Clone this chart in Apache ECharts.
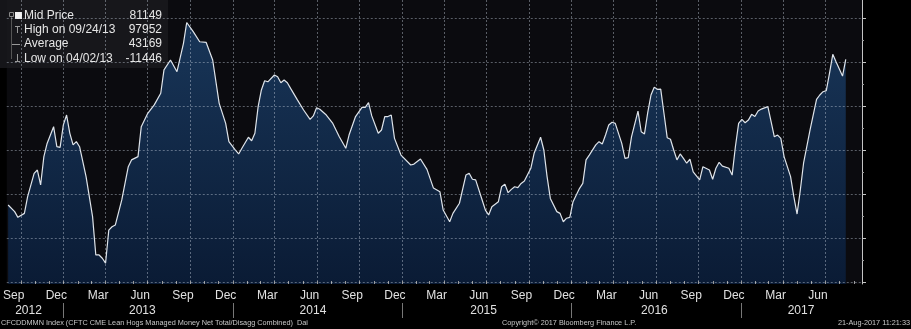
<!DOCTYPE html>
<html><head><meta charset="utf-8">
<script src="https://cdn.jsdelivr.net/npm/echarts@6/dist/echarts.min.js"></script>
<style>html,body{margin:0;padding:0;background:#000;}#c{width:911px;height:329px;}</style>
</head><body><div id="c"></div>
<script>
// ---- data (weekly CFTC report dates, counted in weeks from the first report) ----
const firstReportDate = '2012-09-04';
const weekOffsets = [0,2,3,5,6,8,9,10,11,12,14,15,16,17,18,19,20,21,22,24,26,27,28,29,30,31,32,33,35,37,38,40,41,43,45,47,48,50,52,54,55,57,59,61,63,65,67,68,70,71,72,74,75,76,77,78,79,80,82,83,84,85,86,87,89,91,93,94,95,96,98,100,102,104,105,107,109,110,111,112,114,115,116,117,118,119,121,124,125,127,129,131,133,134,136,137,139,141,142,143,144,146,147,148,149,151,152,153,154,155,156,157,158,159,161,162,164,165,166,167,169,170,171,172,173,174,176,177,178,179,181,182,183,184,185,186,187,189,190,191,192,194,195,196,197,198,199,200,201,202,203,204,205,206,207,208,209,210,211,213,214,216,217,218,219,220,222,223,224,225,226,227,228,229,230,231,232,234,235,236,237,238,239,241,242,243,244,245,247,249,250,251,252,253,254,255,257,258];
const netPositions = [15000,12000,9400,11200,18800,29400,30900,24100,37000,43000,50600,41500,41200,51400,55900,47600,42300,43800,41500,27900,9700,-7700,-7700,-9200,-11446,3600,5100,5900,17300,32400,35500,37000,50600,56700,60500,65800,76400,80900,75600,88500,97952,93800,89200,88900,80900,61200,52100,43800,40000,38200,40800,45800,44200,47600,59700,67300,71500,71000,74100,73300,70600,71800,70600,68000,63000,58200,53900,55500,59200,58500,55900,52100,46000,40800,46800,55200,59400,59400,61500,55500,47600,49100,55200,55200,55900,45300,37700,33200,33600,35900,31200,22700,21000,12700,7400,11200,15800,28600,29400,26700,26400,17300,12700,10500,14200,16500,23300,24500,20600,22100,23300,22900,24800,25900,31700,38500,45800,40000,27900,18000,12000,11200,7400,9000,9400,16500,22600,24800,35500,37700,42300,43800,42700,46800,51400,52600,52100,43000,36200,36500,46000,57700,48300,47300,57000,65000,68500,67600,67700,56700,45600,44900,40000,35500,38200,36200,34000,35800,30100,26400,32400,30900,26700,31700,34400,32700,31700,28600,41500,52100,53900,52400,53600,56200,55200,57700,58600,59700,52900,46000,46800,45300,37000,27900,18800,10900,21800,34000,49100,63000,65000,66500,67000,74900,83500,80100,73600,81149];
const axisStart = '2012-09-01';
const axisEnd = '2017-09-19';
const yearNames = ['2012','2013','2014','2015','2016','2017'];
const yearBounds = ['2012-09-01','2013-01-01','2014-01-01','2015-01-01','2016-01-01','2017-01-01','2017-09-19'];
const monthNames = ['Jan','Feb','Mar','Apr','May','Jun','Jul','Aug','Sep','Oct','Nov','Dec'];
const yTickValues = [-20000, 0, 20000, 40000, 60000, 80000, 100000];
const yTickLabels = ['-20000', '0', '20000', '40000', '60000', '80000', '0.1M'];
const legendLabels = ['Mid Price','High on 09/24/13','Average','Low on 04/02/13'];
const legendValues = ['81149','97952','43169','-11446'];
const footerLeft = 'CFCDDMMN Index (CFTC CME Lean Hogs Managed Money Net Total/Disagg Combined)  Dai';
const footerMid = 'Copyright\u00a9 2017 Bloomberg Finance L.P.';
const footerRight = '21-Aug-2017 11:21:33';

// ---- build ----
const DAY = 86400000;
const utc = s => Date.parse(s + 'T00:00:00Z');
const t0 = utc(firstReportDate);
const seriesData = weekOffsets.map((w, i) => [t0 + w * 7 * DAY, netPositions[i]]);
const lastValue = netPositions[netPositions.length - 1];
const xMin = utc(axisStart), xMax = utc(axisEnd);
const yMinExtent = -20900, yMaxExtent = 108180;
const FONT = '"Liberation Sans", Arial, sans-serif';

const chart = echarts.init(document.getElementById('c'));

const legendRows = [15.5, 30, 44, 58.5];
const legendEls = [
  {type: 'rect', shape: {x: 0, y: 0, width: 168, height: 68}, style: {fill: 'rgba(26,26,30,0.82)'}},
  {type: 'rect', shape: {x: 9.5, y: 12.5, width: 4, height: 4}, style: {fill: 'none', stroke: '#888', lineWidth: 1}},
  {type: 'rect', shape: {x: 15, y: 12, width: 7, height: 7}, style: {fill: '#f2f2f2'}},
  {type: 'line', shape: {x1: 11.5, y1: 17, x2: 11.5, y2: 59}, style: {stroke: '#555', lineWidth: 1}},
  {type: 'line', shape: {x1: 15, y1: 26.5, x2: 20, y2: 26.5}, style: {stroke: '#999', lineWidth: 1}},
  {type: 'line', shape: {x1: 17.5, y1: 26.5, x2: 17.5, y2: 33}, style: {stroke: '#999', lineWidth: 1}},
  {type: 'line', shape: {x1: 12, y1: 44.5, x2: 20, y2: 44.5}, style: {stroke: '#999', lineWidth: 1}},
  {type: 'line', shape: {x1: 17.5, y1: 54, x2: 17.5, y2: 61}, style: {stroke: '#999', lineWidth: 1}},
  {type: 'line', shape: {x1: 15, y1: 61.5, x2: 20, y2: 61.5}, style: {stroke: '#999', lineWidth: 1}}
];
legendLabels.forEach((t, i) => {
  legendEls.push({type: 'text', style: {text: t, x: 24, y: legendRows[i], fill: '#e6e6e6', fontSize: 12, fontFamily: FONT, verticalAlign: 'middle'}});
  legendEls.push({type: 'text', style: {text: legendValues[i], x: 162, y: legendRows[i], fill: '#e6e6e6', fontSize: 12, fontFamily: FONT, align: 'right', verticalAlign: 'middle'}});
});

// right-hand value labels (attached to invisible horizontal marker lines) plus the last-value tag
const hLines = yTickValues.map((v, i) => ({
  yAxis: v,
  label: {show: Math.abs(v - lastValue) > 8000, formatter: yTickLabels[i], position: 'end', distance: 6,
          color: '#e0e0e0', fontSize: 12, fontFamily: FONT}
}));
hLines.push({
  yAxis: lastValue,
  label: {show: true, formatter: String(lastValue), position: 'end', distance: 3, color: '#000', backgroundColor: '#f2f2f2',
          fontSize: 13, fontFamily: FONT, padding: [2, 6, 1, 4]}
});

const baseGraphic = [
  {type: 'group', left: 0, top: 0, z: 100, children: legendEls},
  {type: 'text', z: 100, style: {text: footerLeft, x: 1, y: 323, fill: '#c8c8c8', fontSize: 7.3, fontFamily: FONT, verticalAlign: 'middle'}},
  {type: 'text', z: 100, style: {text: footerMid, x: 502, y: 323, fill: '#c8c8c8', fontSize: 7.3, fontFamily: FONT, verticalAlign: 'middle'}},
  {type: 'text', z: 100, style: {text: footerRight, x: 910, y: 323, fill: '#c8c8c8', fontSize: 7.3, fontFamily: FONT, align: 'right', verticalAlign: 'middle'}}
];

const option = {
  useUTC: true,
  animation: false,
  backgroundColor: '#000',
  textStyle: {fontFamily: FONT},
  grid: [
    {left: 0, right: 49, top: 0, bottom: 45, show: true, backgroundColor: '#0b0b0f', borderWidth: 0},
    {left: 0, right: 49, top: 303, bottom: 11, show: false}
  ],
  xAxis: [
    {type: 'time', gridIndex: 0, position: 'bottom', min: xMin, max: xMax, splitNumber: 20, minInterval: 93 * DAY, maxInterval: 93 * DAY,
     axisLine: {show: false, onZero: false}, axisTick: {show: false}, splitLine: {show: false},
     axisLabel: {show: true, interval: 0, showMinLabel: false, showMaxLabel: false, hideOverlap: false,
       color: '#e0e0e0', fontSize: 12, margin: 6, padding: [0, 14, 0, 0],
       formatter: v => monthNames[new Date(v - DAY).getUTCMonth()]}},
    {type: 'time', gridIndex: 1, min: xMin, max: xMax, show: false, axisLine: {onZero: false}}
  ],
  yAxis: [
    {type: 'value', gridIndex: 0, min: yMinExtent, max: yMaxExtent, position: 'right',
     axisLine: {show: true, lineStyle: {color: '#c4c4c4', width: 1}}, axisTick: {show: false}, axisLabel: {show: false}, splitLine: {show: false}},
    {type: 'value', gridIndex: 1, min: 0, max: 1, show: false}
  ],
  series: [
    {type: 'line', xAxisIndex: 0, yAxisIndex: 0, data: seriesData, showSymbol: false,
     lineStyle: {color: '#dfe4ea', width: 1.2},
     areaStyle: {origin: 'start', color: new echarts.graphic.LinearGradient(0, 0, 0, 1, [
       {offset: 0, color: '#1e4878'}, {offset: 1, color: '#0a2245'}])},
     markLine: {symbol: 'none', silent: true, lineStyle: {opacity: 0}, data: hLines}},
    {type: 'line', xAxisIndex: 1, yAxisIndex: 1, data: [],
     markArea: {itemStyle: {color: 'rgba(0,0,0,0)'},
       label: {show: true, position: 'inside', color: '#e0e0e0', fontSize: 12, fontFamily: FONT},
       data: yearNames.map((n, i) => [{xAxis: utc(yearBounds[i]), name: n}, {xAxis: utc(yearBounds[i + 1])}])}}
  ],
  graphic: baseGraphic
};
chart.setOption(option);

// grid lines, ticks and year separators placed through the chart's own scales
const px = t => chart.convertToPixel({xAxisIndex: 0}, t);
const py = v => chart.convertToPixel({yAxisIndex: 0}, v);
const yTop = py(yMaxExtent), yBot = py(yMinExtent);
const xLeft = px(xMin), xRight = px(xMax);
const crisp = v => Math.round(v) + 0.5;
const dashStyle = () => ({stroke: 'rgba(200,210,225,0.42)', lineWidth: 1, lineDash: [2, 2], fill: null});
const extra = [];
const startYear = new Date(xMin).getUTCFullYear(), endYear = new Date(xMax).getUTCFullYear();
for (let y = startYear; y <= endYear; y++) {
  for (let m = 0; m < 12; m++) {
    const t = Date.UTC(y, m, 1);
    if (t <= xMin || t >= xMax) continue;
    const x = crisp(px(t));
    if (m % 3 === 0) extra.push({type: 'line', z: 50, silent: true, shape: {x1: x, y1: yTop, x2: x, y2: yBot}, style: dashStyle()});
    extra.push({type: 'line', z: 50, silent: true, shape: {x1: x, y1: yBot - 3, x2: x, y2: yBot}, style: {stroke: '#9a9a9a', lineWidth: 1}});
    if (m === 0) extra.push({type: 'line', z: 50, silent: true, shape: {x1: x, y1: 303, x2: x, y2: 318}, style: {stroke: '#777', lineWidth: 1}});
  }
}
yTickValues.forEach((v, i) => {
  const y = crisp(py(v));
  extra.push({type: 'line', z: 50, silent: true, shape: {x1: xLeft, y1: y, x2: xRight, y2: y}, style: dashStyle()});
  extra.push({type: 'line', z: 50, silent: true, shape: {x1: xRight, y1: y, x2: xRight + 4, y2: y}, style: {stroke: '#c4c4c4', lineWidth: 1}});
  if (i < yTickValues.length - 1) {
    const ym = crisp(py((v + yTickValues[i + 1]) / 2));
    extra.push({type: 'line', z: 50, silent: true, shape: {x1: xRight, y1: ym, x2: xRight + 2, y2: ym}, style: {stroke: '#9a9a9a', lineWidth: 1}});
  }
});
chart.setOption({graphic: baseGraphic.concat(extra)});
</script>
</body></html>
